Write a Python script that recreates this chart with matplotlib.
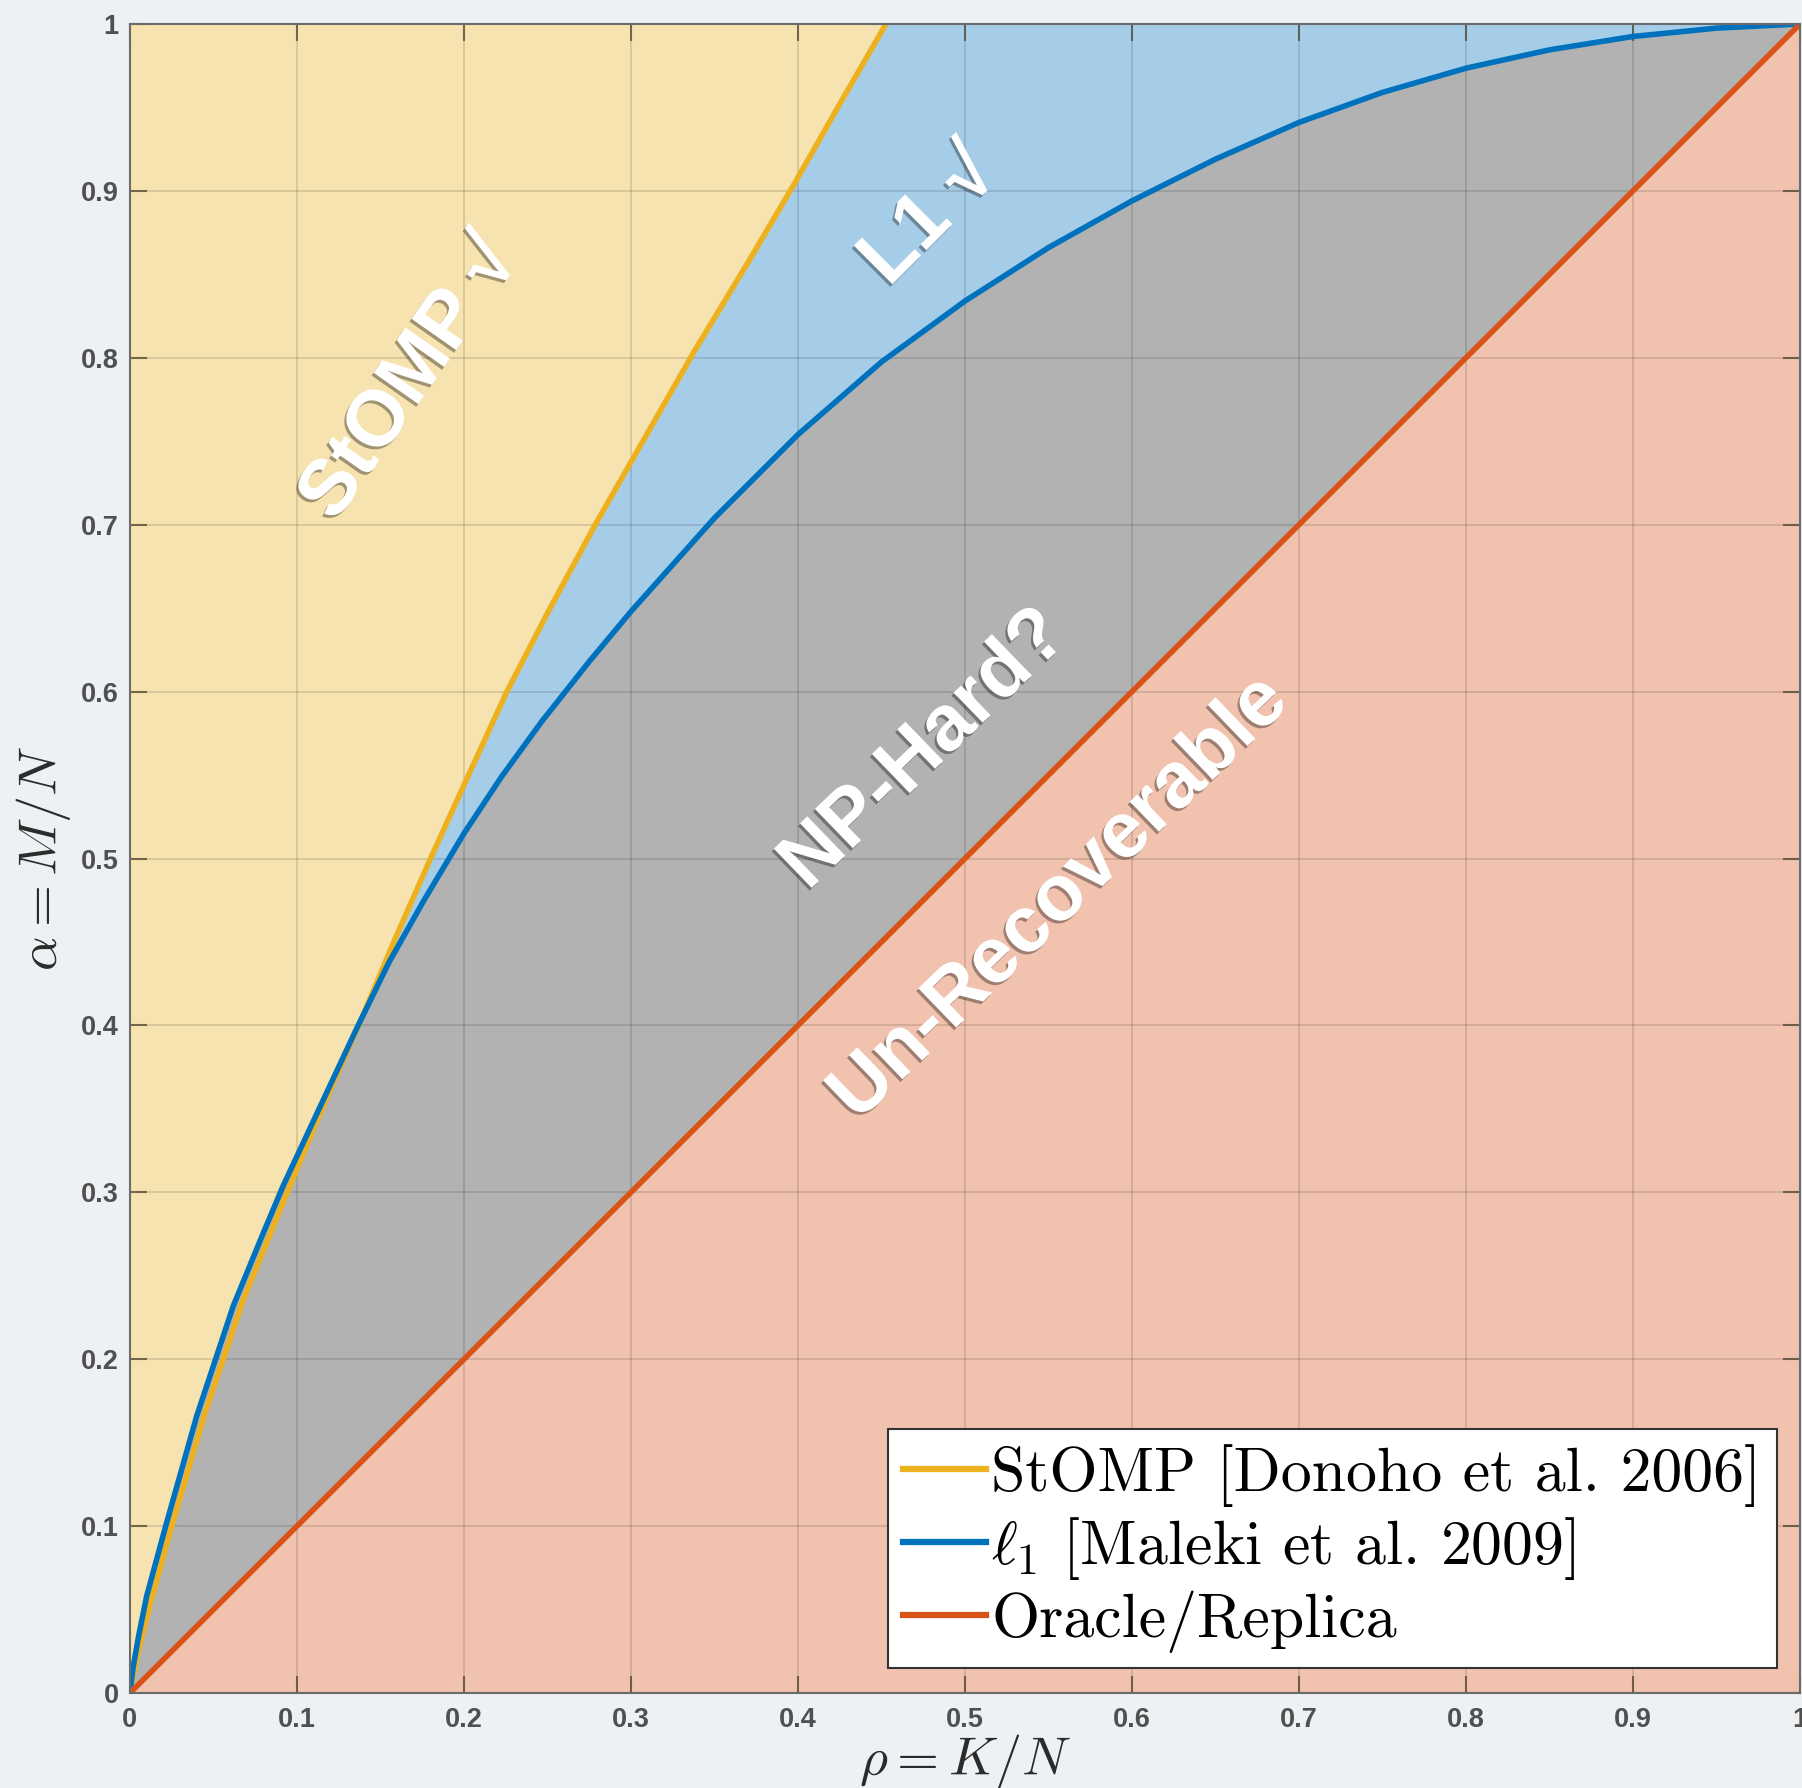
import numpy as np
import matplotlib.pyplot as plt
import matplotlib.patheffects as pe
from matplotlib.ticker import FuncFormatter

plt.rcParams['mathtext.fontset'] = 'cm'

# phase transition curves (rho = K/N, alpha = M/N)
stomp_rho = [0, 0.005, 0.012, 0.025, 0.045, 0.068, 0.095, 0.115, 0.137, 0.158,
             0.18, 0.2, 0.2257, 0.25, 0.2786, 0.31, 0.338, 0.37, 0.3977, 0.425, 0.4527]
stomp_alpha = [0, 0.025, 0.053, 0.1, 0.168, 0.236, 0.302, 0.35, 0.4, 0.45,
               0.5, 0.544, 0.6, 0.647, 0.7, 0.755, 0.804, 0.857, 0.904, 0.952, 1.0]

l1_rho = [0, 0.002, 0.005, 0.01, 0.0214, 0.04, 0.0619, 0.08, 0.0918, 0.11,
          0.1357, 0.155, 0.1755, 0.2, 0.2225, 0.2465, 0.275, 0.3, 0.35, 0.4,
          0.45, 0.5, 0.55, 0.6, 0.65, 0.7, 0.75, 0.8, 0.85, 0.9, 0.95, 1.0]
l1_alpha = [0, 0.016, 0.033, 0.058, 0.1, 0.166, 0.232, 0.276, 0.304, 0.343,
            0.398, 0.4376, 0.474, 0.515, 0.549, 0.582, 0.618, 0.648, 0.704, 0.754,
            0.7975, 0.834, 0.866, 0.894, 0.919, 0.941, 0.959, 0.9735, 0.9845, 0.9925, 0.9975, 1.0]

oracle_rho = [0, 1]
oracle_alpha = [0, 1]

legend_labels = ['StOMP [Donoho et al. 2006]',
                 r'$\ell_1$ [Maleki et al. 2009]',
                 'Oracle/Replica']
tick_values = [0, 0.1, 0.2, 0.3, 0.4, 0.5, 0.6, 0.7, 0.8, 0.9, 1]

# region names: text, x, y, angle
regions = [('StOMP \u221a', 0.168, 0.787, 55),
           ('L1 \u221a', 0.479, 0.884, 45),
           ('NP-Hard?', 0.476, 0.565, 44),
           ('Un-Recoverable', 0.557, 0.476, 44)]

c_stomp = '#EDB120'
c_l1 = '#0072BD'
c_oracle = '#D95319'

fig = plt.figure(figsize=(18.02, 17.88), dpi=100, facecolor='#EDF1F3')
ax = fig.add_axes([0.0721, 0.0531, 0.9268, 0.9335])
ax.set_facecolor('#F7E3AF')

# coloured regions
ax.fill_betweenx(stomp_alpha, stomp_rho, 1, color='#A6CDE8', lw=0, zorder=1)
ax.fill_between(l1_rho, 0, l1_alpha, color='#B2B2B2', lw=0, zorder=1)
ax.fill_between(oracle_rho, 0, oracle_alpha, color='#F1C2AE', lw=0, zorder=1)

ax.plot(stomp_rho, stomp_alpha, color=c_stomp, lw=4, zorder=2, label=legend_labels[0])
ax.plot(l1_rho, l1_alpha, color=c_l1, lw=4, zorder=2, label=legend_labels[1])
ax.plot(oracle_rho, oracle_alpha, color=c_oracle, lw=4, zorder=2, label=legend_labels[2])

ax.set_xlim(0, 1)
ax.set_ylim(0, 1)
ax.set_xticks(tick_values)
ax.set_yticks(tick_values)
fmt = FuncFormatter(lambda v, p: f'{v:g}')
ax.xaxis.set_major_formatter(fmt)
ax.yaxis.set_major_formatter(fmt)
ax.grid(True, color='k', alpha=0.13, lw=1.3)
ax.set_axisbelow('line')
ax.tick_params(direction='in', length=12, width=1.5, top=True, right=True,
               color=(0.3, 0.27, 0.2, 0.75), labelsize=19.5, labelcolor='#505050')
ax.tick_params(axis='x', pad=10)
ax.tick_params(axis='y', pad=8)
for lab in ax.get_xticklabels() + ax.get_yticklabels():
    lab.set_fontfamily('Liberation Sans')
    lab.set_fontweight('bold')
for sp in ax.spines.values():
    sp.set_color('#6b6b6b')
    sp.set_linewidth(1.5)

ax.set_xlabel(r'$\rho = K/N$', fontsize=39, color='#2b2b2b', va='center')
ax.xaxis.set_label_coords(0.5, -0.041)
ax.set_ylabel(r'$\alpha = M/N$', fontsize=39, color='#2b2b2b', ha='center', va='center')
ax.yaxis.set_label_coords(-0.052, 0.5)

shadow = [pe.withSimplePatchShadow(offset=(-1.5, -2), shadow_rgbFace='k', alpha=0.35)]
for txt, x, y, ang in regions:
    ax.text(x, y, txt, rotation=ang, ha='center', va='center', fontsize=57,
            fontweight='bold', family=['Liberation Sans', 'DejaVu Sans'],
            color='white', path_effects=shadow, zorder=5)

leg = ax.legend(loc='lower right', bbox_to_anchor=(0.986, 0.015),
                prop={'family': 'cmr10', 'size': 44.5}, handlelength=1.34,
                handletextpad=0.08, borderpad=0.25, labelspacing=0.13,
                fancybox=False, framealpha=1, edgecolor='#333333', borderaxespad=0)
leg.get_frame().set_linewidth(1.5)
for h in leg.get_lines():
    h.set_linewidth(4.5)

fig.savefig('out.png', dpi=100, facecolor=fig.get_facecolor())
